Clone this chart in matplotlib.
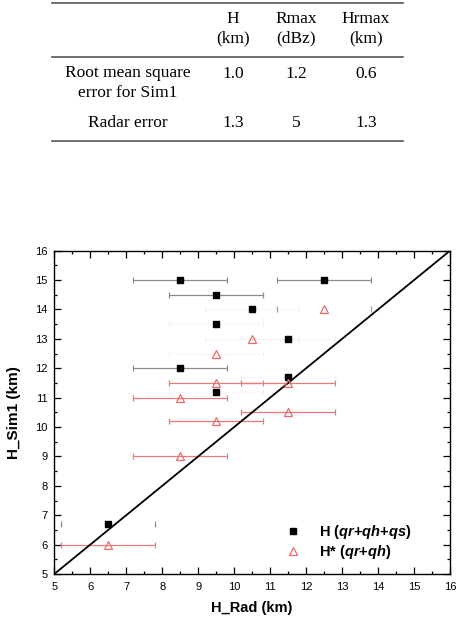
import matplotlib
matplotlib.use("Agg")
import matplotlib.pyplot as plt
from matplotlib.lines import Line2D
from matplotlib.ticker import MultipleLocator

plt.rcParams['font.family'] = 'Liberation Sans'
plt.rcParams['mathtext.fontset'] = 'custom'
plt.rcParams['mathtext.it'] = 'Liberation Sans:italic:bold'
plt.rcParams['mathtext.rm'] = 'Liberation Sans:bold'

# --- table data ---
col_headers = ["H\n(km)", "Rmax\n(dBz)", "Hrmax\n(km)"]
row_labels = ["Root mean square\nerror for Sim1", "Radar error"]
table_values = [["1.0", "1.2", "0.6"],
                ["1.3", "5", "1.3"]]

# --- scatter data ---
radar_err = 1.3
h_rad = [8.5, 12.5, 9.5, 10.5, 9.5, 11.5, 8.5, 11.5, 9.5, 6.5]
h_sim = [15.0, 15.0, 14.5, 14.0, 13.5, 13.0, 12.0, 11.7, 11.2, 6.7]
h_bar = ['full', 'full', 'full', 'faint', 'faint', 'faint', 'full', 'faint', 'faint', 'caps']

hs_rad = [12.5, 10.5, 9.5, 9.5, 11.5, 8.5, 11.5, 9.5, 8.5, 6.5]
hs_sim = [14.0, 13.0, 12.5, 11.5, 11.5, 11.0, 10.5, 10.2, 9.0, 6.0]
hs_bar = ['caps', 'faint', 'faint', 'full', 'full', 'full', 'full', 'full', 'full', 'full']

fig = plt.figure(figsize=(4.61, 6.27), dpi=100)

# ---------- table ----------
serif = 'Liberation Serif'
fs_tab = 12.5
x0, x1 = 52 / 461, 403 / 461
for yl in [3, 57, 141]:
    fig.add_artist(Line2D([x0, x1], [1 - yl / 627, 1 - yl / 627], color='#555555', lw=1.2,
                          transform=fig.transFigure))
col_x = [233, 296, 366]
for cx, txt in zip(col_x, col_headers):
    fig.text(cx / 461, 1 - 29 / 627, txt, ha='center', va='center', family=serif,
             fontsize=fs_tab, linespacing=1.3)
row_y = [74, 123]
for ry, lab, vals in zip(row_y, row_labels, table_values):
    if '\n' in lab:
        fig.text(128 / 461, 1 - (ry - 9) / 627, lab, ha='center', va='top', family=serif,
                 fontsize=fs_tab, linespacing=1.3)
    else:
        fig.text(128 / 461, 1 - ry / 627, lab, ha='center', va='center', family=serif,
                 fontsize=fs_tab)
    for cx, v in zip(col_x, vals):
        fig.text(cx / 461, 1 - ry / 627, v, ha='center', va='center', family=serif,
                 fontsize=fs_tab)

# ---------- scatter ----------
ax = fig.add_axes([54.3 / 461, 1 - 574 / 627, (450 - 54.3) / 461, (574 - 250.7) / 627])

black_bar = '#8c8c8c'
red_bar = '#f07878'
red_mark = '#ec6868'


def draw_bars(xs, ys, kinds, color):
    for x, y, k in zip(xs, ys, kinds):
        _, caps, bars = ax.errorbar(x, y, xerr=radar_err, fmt='none', ecolor=color,
                                    elinewidth=0.9, capsize=2.2, capthick=0.9, zorder=2)
        if k == 'faint':
            for c in caps:
                c.set_alpha(0.12)
            for b in bars:
                b.set_alpha(0.06)
        elif k == 'caps':
            for b in bars:
                b.set_alpha(0.0)


draw_bars(h_rad, h_sim, h_bar, black_bar)
draw_bars(hs_rad, hs_sim, hs_bar, red_bar)

ax.plot([5, 16], [5, 16], color='black', lw=1.3, zorder=3)
ax.plot(h_rad, h_sim, 's', color='black', ms=4.5, ls='none', zorder=4)
ax.plot(hs_rad, hs_sim, '^', mfc='none', mec=red_mark, ms=5.5, mew=0.9, ls='none', zorder=4)

ax.set_xlim(5, 16)
ax.set_ylim(5, 16)
ax.xaxis.set_major_locator(MultipleLocator(1))
ax.yaxis.set_major_locator(MultipleLocator(1))
ax.xaxis.set_minor_locator(MultipleLocator(0.5))
ax.yaxis.set_minor_locator(MultipleLocator(0.5))
ax.tick_params(which='both', direction='in', top=True, right=True, width=0.9)
ax.tick_params(which='major', length=5, labelsize=8)
ax.tick_params(axis='x', which='major', pad=6)
ax.tick_params(axis='y', which='major', pad=5)
ax.tick_params(which='minor', length=2.5)
for s in ax.spines.values():
    s.set_linewidth(1.0)

ax.set_xlabel('H_Rad (km)', fontsize=10.5, fontweight='bold', labelpad=6)
ax.set_ylabel('H_Sim1 (km)', fontsize=11, fontweight='bold', labelpad=10)

handles = [Line2D([], [], marker='s', color='black', ls='none', ms=4.5),
           Line2D([], [], marker='^', mfc='none', mec=red_mark, ls='none', ms=5.5, mew=0.9)]
labels = [r'H ($\mathit{qr}$+$\mathit{qh}$+$\mathit{qs}$)', r'H* ($\mathit{qr}$+$\mathit{qh}$)']
leg = ax.legend(handles, labels, loc='center left', bbox_to_anchor=(0.548, 0.098), frameon=False,
                prop={'weight': 'bold', 'size': 10.5}, handlelength=1.2, handletextpad=1.2,
                labelspacing=0.12)

fig.savefig('out.png', dpi=100)
